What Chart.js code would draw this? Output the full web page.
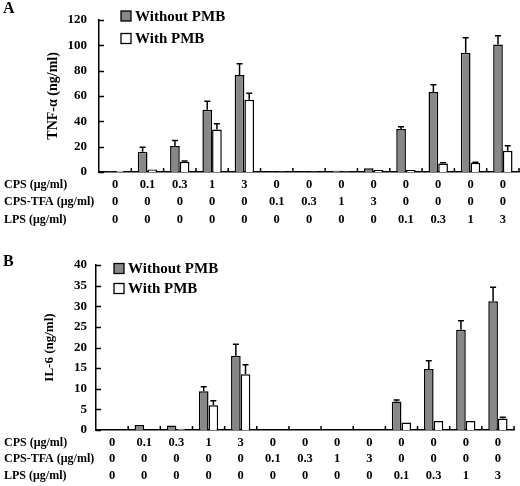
<!DOCTYPE html>
<html>
<head>
<meta charset="utf-8">
<script src="https://cdn.jsdelivr.net/npm/chart.js@4/dist/chart.umd.min.js"></script>
<style>
body { margin: 0; background: #fff; }
.box { position: relative; width: 520px; }
</style>
</head>
<body>
<div class="box" style="height:240px"><canvas id="chartA"></canvas></div>
<div class="box" style="height:246px"><canvas id="chartB"></canvas></div>
<script>
// treatment table under the bars
var cps = ["0","0.1","0.3","1","3","0","0","0","0","0","0","0","0"];
var cpsTfa = ["0","0","0","0","0","0.1","0.3","1","3","0","0","0","0"];
var lps = ["0","0","0","0","0","0","0","0","0","0.1","0.3","1","3"];
var rowTitles = ["CPS (μg/ml)", "CPS-TFA (μg/ml)", "LPS (μg/ml)"];
var seriesNames = ["Without PMB", "With PMB"];

// panel A: TNF-alpha
var tnfWithout = [0.5, 16, 20.5, 49, 76.5, 0.4, 0.4, 1, 3, 34, 63, 94, 100.5];
var tnfWithoutErr = [0, 3.5, 4.3, 6.7, 8.8, 0, 0, 0, 0, 1.6, 5.8, 11.9, 7];
var tnfWith = [1, 2, 8, 33.5, 57, 0.3, 0.4, 0.5, 1.5, 1.5, 6.8, 7.2, 16.8];
var tnfWithErr = [0, 0, 0.6, 4.5, 5, 0, 0, 0, 0, 0, 0.4, 0.4, 3.8];

// panel B: IL-6
var il6Without = [0, 1.2, 1.1, 9.4, 18, 0, 0, 0, 0, 6.9, 14.8, 24.3, 31.2];
var il6WithoutErr = [0, 0, 0, 1.1, 2.8, 0, 0, 0, 0, 0.4, 2, 2.2, 3.4];
var il6With = [0, 0, 0.3, 6, 13.5, 0, 0, 0, 0, 1.8, 2.2, 2.2, 2.8];
var il6WithErr = [0, 0, 0, 1.1, 2.3, 0, 0, 0, 0, 0, 0, 0, 0.3];

var labels = cps.map(function(c, i){ return [c, cpsTfa[i], lps[i]]; });

var SERIF = "'Liberation Serif', 'Times New Roman', serif";
var GRAY = "#878787";

// error bars, inner tick marks, legend, panel letter and row titles
var decor = {
    id: "decor",
    afterDatasetsDraw: function(chart, args, opts){
        var ctx = chart.ctx;
        var y = chart.scales.y;
        var x = chart.scales.x;
        var area = chart.chartArea;
        ctx.save();
        ctx.strokeStyle = "#000";
        ctx.lineWidth = 1.5;

        chart.data.datasets.forEach(function(ds, di){
            var meta = chart.getDatasetMeta(di);
            meta.data.forEach(function(bar, i){
                var e = ds.errors[i];
                if (!e) return;
                var top = y.getPixelForValue(ds.data[i] + e);
                ctx.beginPath();
                ctx.moveTo(bar.x, bar.y);
                ctx.lineTo(bar.x, top);
                ctx.moveTo(bar.x - 3, top);
                ctx.lineTo(bar.x + 3, top);
                ctx.stroke();
            });
        });

        // y ticks pointing inward
        y.ticks.forEach(function(t){
            var py = Math.round(y.getPixelForValue(t.value)) + 0.5;
            ctx.beginPath();
            ctx.moveTo(area.left, py);
            ctx.lineTo(area.left + 5, py);
            ctx.stroke();
        });
        // x ticks between categories
        for (var i = 1; i <= labels.length; i++) {
            var px = area.left + (area.right - area.left) * i / labels.length;
            ctx.beginPath();
            ctx.moveTo(px, area.bottom);
            ctx.lineTo(px, area.bottom - 4);
            ctx.stroke();
        }

        // legend
        ctx.font = "bold " + opts.legendSize + "px " + SERIF;
        ctx.textBaseline = "middle";
        ctx.textAlign = "left";
        ctx.lineWidth = 1.3;
        chart.data.datasets.forEach(function(ds, di){
            var cy = opts.legendY + di * opts.legendGap;
            ctx.fillStyle = ds.backgroundColor;
            ctx.fillRect(opts.legendX, cy - 5, 10, 10);
            ctx.strokeRect(opts.legendX, cy - 5, 10, 10);
            ctx.fillStyle = "#000";
            ctx.fillText(ds.label, opts.legendX + 14, cy + 1);
        });

        // panel letter
        ctx.font = "bold 16px " + SERIF;
        ctx.fillText(opts.letter, 3, opts.letterY);

        // row titles of the table
        var lh = x.options.ticks.font.lineHeight * x.options.ticks.font.size;
        ctx.font = "bold 12px " + SERIF;
        rowTitles.forEach(function(t, r){
            ctx.fillText(t, 4, x.top + x.options.ticks.padding + lh * (r + 0.5));
        });
        ctx.restore();
    }
};

function makeChart(id, p){
    return new Chart(document.getElementById(id), {
        type: "bar",
        data: {
            labels: labels,
            datasets: [
                {
                    label: seriesNames[0],
                    data: p.without,
                    errors: p.withoutErr,
                    backgroundColor: GRAY,
                    borderColor: "#000",
                    borderWidth: 1.5
                },
                {
                    label: seriesNames[1],
                    data: p.with,
                    errors: p.withErr,
                    backgroundColor: "#ffffff",
                    borderColor: "#000",
                    borderWidth: 1.5
                }
            ]
        },
        options: {
            responsive: true,
            maintainAspectRatio: false,
            animation: false,
            categoryPercentage: 0.6,
            barPercentage: 1,
            layout: { padding: { top: p.top, right: p.right, left: 0, bottom: 0 } },
            plugins: {
                legend: { display: false },
                tooltip: { enabled: false },
                decor: p.decor
            },
            scales: {
                x: {
                    grid: { display: false, drawTicks: false },
                    border: { color: "#000", width: 1.5 },
                    ticks: {
                        color: "#000",
                        autoSkip: false,
                        maxRotation: 0,
                        padding: p.xPad,
                        font: { family: SERIF, size: 12.5, weight: "bold", lineHeight: p.rowH / 12.5 }
                    },
                    afterFit: function(s){ s.height = p.xHeight; }
                },
                y: {
                    min: 0,
                    max: p.max,
                    grid: { display: false, drawTicks: false },
                    border: { color: "#000", width: 1.5 },
                    ticks: {
                        stepSize: p.step,
                        color: "#000",
                        padding: p.yPad,
                        font: { family: SERIF, size: 13, weight: "bold" }
                    },
                    title: {
                        display: true,
                        text: p.title,
                        color: "#000",
                        font: { family: SERIF, size: p.titleSize, weight: "bold" },
                        padding: { top: p.titlePad, bottom: 0 }
                    },
                    afterFit: function(s){ s.width = p.axisX; }
                }
            }
        },
        plugins: [decor]
    });
}

makeChart("chartA", {
    without: tnfWithout, withoutErr: tnfWithoutErr,
    with: tnfWith, withErr: tnfWithErr,
    max: 120, step: 20, title: "TNF-α (ng/ml)", titleSize: 14, titlePad: 45,
    top: 13, right: 1, axisX: 99, xHeight: 68, xPad: 4, rowH: 17.5, yPad: 12,
    decor: { letter: "A", letterY: 9, legendX: 121, legendY: 16, legendGap: 22.5, legendSize: 15 }
});

makeChart("chartB", {
    without: il6Without, withoutErr: il6WithoutErr,
    with: il6With, withErr: il6WithErr,
    max: 40, step: 5, title: "IL-6 (ng/ml)", titleSize: 13, titlePad: 42,
    top: 25, right: 6, axisX: 96, xHeight: 56, xPad: 4.5, rowH: 16.5, yPad: 9,
    decor: { letter: "B", letterY: 22, legendX: 114, legendY: 28.5, legendGap: 20, legendSize: 15 }
});
</script>
</body>
</html>
